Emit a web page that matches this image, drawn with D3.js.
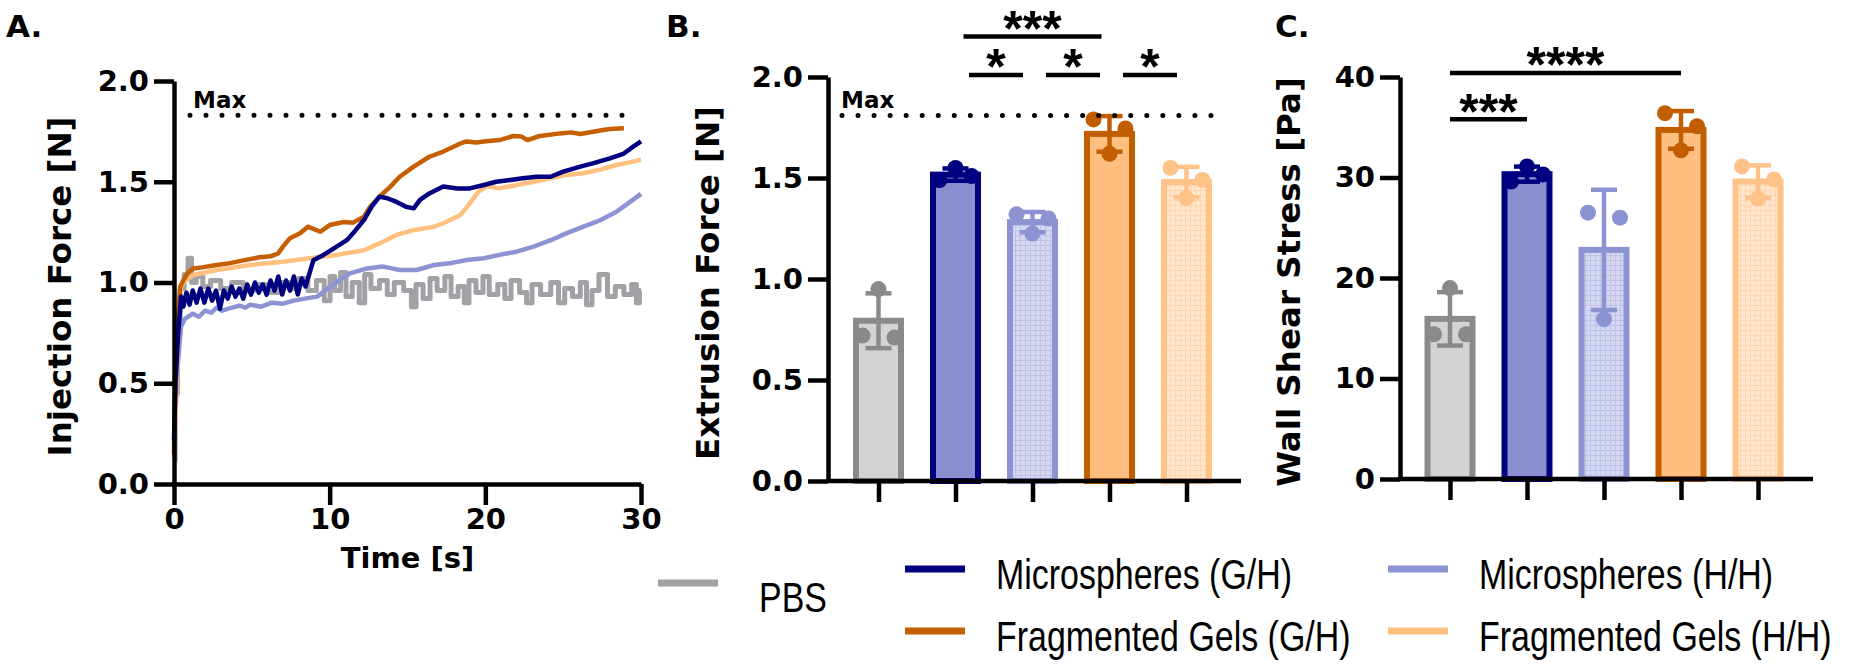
<!DOCTYPE html>
<html><head><meta charset="utf-8">
<script src="https://cdn.jsdelivr.net/npm/d3@7"></script>
<style>body{margin:0;background:#fff}svg{display:block}</style>
</head><body>
<svg id="c" width="1859" height="670"></svg>
<script>
// ---------------- DATA ----------------
const timeTicks = [0, 10, 20, 30];
const forceTicks = [0, 0.5, 1.0, 1.5, 2.0];
const stressTicks = [0, 10, 20, 30, 40];
const groups = ["PBS", "Microspheres (G/H)", "Microspheres (H/H)", "Fragmented Gels (G/H)", "Fragmented Gels (H/H)"];

const maxInjection = 1.83;
const maxExtrusion = 1.81;

// Injection force traces [time s, force N]
const tracePBS = [[0,0.12],[0.15,0.45],[0.3,0.75],[0.5,0.97],[0.8,1.04],[1.0,1.12],[1.25,1.0],[1.6,1.03],[2.1,0.98],[2.6,1.01],[3.4,0.97],[4.0,1.0],[4.9,0.96],[5.6,0.99],[6.3,0.95],[7.1,1.0],[7.7,0.97],[8.3,1.02],[8.9,0.96],[9.4,1.01],[9.9,0.91],[10.15,1.03],[10.5,0.96],[10.9,1.05],[11.2,0.93],[11.7,1.0],[12.1,0.9],[12.4,1.04],[12.9,0.97],[13.5,1.01],[13.9,0.94],[14.4,1.0],[15.1,0.96],[15.4,0.88],[15.7,0.99],[16.3,0.92],[16.6,1.02],[17.2,0.96],[17.6,1.03],[18.0,0.93],[18.5,0.98],[18.8,0.9],[19.1,1.01],[19.7,0.95],[20.0,1.03],[20.5,0.94],[21.1,0.99],[21.4,0.92],[21.9,1.01],[22.5,0.95],[22.8,0.9],[23.2,0.99],[23.9,0.94],[24.5,1.0],[24.9,0.9],[25.3,0.97],[25.9,0.93],[26.3,1.0],[26.7,0.89],[27.0,0.96],[27.6,1.04],[28.1,0.93],[28.6,0.98],[29.2,0.94],[29.6,0.99],[29.8,0.9],[30.0,0.96]];
const traceMSGH = [[0,0.22],[0.1,0.5],[0.25,0.72],[0.45,0.93],[0.6,0.88],[0.8,0.95],[1.0,0.89],[1.2,0.96],[1.45,0.9],[1.7,0.97],[1.95,0.9],[2.2,0.97],[2.45,0.91],[2.7,0.96],[2.95,0.87],[3.2,0.96],[3.45,0.92],[3.7,0.98],[3.95,0.93],[4.2,0.97],[4.45,0.92],[4.7,0.99],[4.95,0.94],[5.2,1.0],[5.45,0.95],[5.7,0.99],[5.95,0.94],[6.2,1.01],[6.45,0.96],[6.7,1.03],[6.95,0.94],[7.2,1.01],[7.45,0.96],[7.7,1.03],[7.95,0.94],[8.2,1.02],[8.45,0.98],[8.95,1.11],[9.6,1.137],[10.45,1.178],[11.1,1.21],[11.5,1.244],[12.2,1.31],[12.7,1.376],[13.2,1.426],[13.7,1.418],[14.3,1.40],[14.9,1.376],[15.4,1.368],[15.8,1.41],[16.4,1.442],[17.3,1.476],[18.2,1.467],[19.0,1.467],[19.9,1.484],[20.7,1.50],[21.6,1.509],[22.4,1.517],[23.3,1.525],[24.2,1.525],[25.0,1.55],[26.1,1.575],[26.9,1.591],[28.0,1.616],[28.9,1.64],[29.5,1.674],[30.0,1.70]];
const traceMSHH = [[0,0.2],[0.2,0.55],[0.45,0.78],[0.7,0.82],[1.2,0.845],[1.6,0.83],[2.0,0.86],[2.4,0.85],[2.74,0.875],[3.1,0.86],[3.5,0.87],[4.2,0.885],[4.6,0.875],[4.9,0.89],[5.6,0.88],[6.3,0.9],[7.0,0.895],[7.7,0.91],[8.4,0.92],[9.2,0.93],[9.7,0.96],[10.2,0.988],[10.8,1.02],[11.3,1.045],[12.4,1.07],[13.4,1.079],[14.0,1.07],[14.5,1.062],[15.6,1.062],[16.7,1.087],[17.7,1.095],[18.8,1.112],[19.9,1.12],[20.9,1.137],[22.0,1.153],[23.1,1.178],[24.2,1.21],[25.2,1.244],[26.3,1.277],[27.4,1.31],[28.4,1.35],[29.3,1.40],[30.0,1.44]];
const traceFGGH = [[0,0.15],[0.1,0.55],[0.25,0.82],[0.4,0.98],[0.6,1.01],[0.9,1.05],[1.24,1.07],[1.8,1.075],[2.74,1.087],[3.5,1.095],[4.45,1.11],[5.5,1.125],[6.2,1.13],[6.7,1.145],[7.0,1.178],[7.45,1.22],[8.1,1.244],[8.6,1.277],[9.0,1.265],[9.4,1.252],[10.0,1.285],[10.9,1.30],[11.5,1.297],[12.2,1.327],[12.6,1.376],[13.2,1.426],[13.9,1.476],[14.5,1.525],[15.4,1.575],[16.4,1.624],[17.3,1.65],[18.4,1.69],[18.8,1.70],[19.4,1.695],[19.9,1.70],[20.9,1.707],[21.8,1.727],[22.3,1.725],[22.7,1.707],[23.5,1.727],[24.8,1.74],[25.5,1.745],[26.1,1.737],[27.2,1.752],[28.0,1.762],[28.9,1.765]];
const traceFGHH = [[0,0.13],[0.15,0.45],[0.3,0.8],[0.45,0.98],[0.6,1.0],[1.24,1.037],[2.74,1.062],[4.9,1.087],[7.0,1.103],[8.7,1.12],[10.45,1.137],[12.2,1.16],[13.2,1.194],[14.3,1.236],[15.4,1.26],[16.7,1.277],[17.3,1.294],[18.4,1.335],[19.0,1.393],[19.55,1.45],[20.1,1.479],[20.9,1.467],[22.0,1.484],[23.1,1.50],[24.2,1.517],[25.2,1.534],[26.3,1.542],[27.4,1.56],[28.4,1.583],[29.5,1.60],[30.0,1.61]];

// Extrusion force replicates (N), per group
const extrusionForce = [[0.72,0.95,0.71],[1.49,1.55,1.51],[1.32,1.225,1.30],[1.79,1.62,1.745],[1.55,1.40,1.49]];
// Wall shear stress replicates (Pa), per group
const wallShearStress = [[14.4,19.0,14.4],[29.6,31.1,30.3],[26.5,15.9,26.0],[36.4,32.7,35.1],[31.1,27.9,29.8]];

// significance brackets: group indices, label, level (data units)
const sigB = [{a:1,b:3,label:"***",level:2.20,long:true},{a:1,b:2,label:"*",level:2.01},{a:2,b:3,label:"*",level:2.01},{a:3,b:4,label:"*",level:2.01}];
const sigC = [{a:0,b:3,label:"****",level:40.4,long:true},{a:0,b:1,label:"***",level:35.8}];

// ---------------- STYLE ----------------
const BOLD = "'DejaVu Sans', sans-serif";
const REG = "'Liberation Sans', Arial, sans-serif";
const lineColors = ["#a2a2a6","#000080","#8c93d2","#c55f00","#ffc080"];
const barStroke = ["#8a8a8a","#000080","#8c93d2","#c25e00","#ffc38a"];
const barFill = ["#d3d3d3","#8a8fcf","url(#patBlue)","#ffbf80","url(#patOrange)"];
const dotColor = ["#8a8a8a","#000080","#8c93d2","#c25e00","#ffc38a"];

const svg = d3.select("#c");
const defs = svg.append("defs");
function pattern(id, base, line){
  const p = defs.append("pattern").attr("id",id).attr("patternUnits","userSpaceOnUse").attr("width",5).attr("height",5);
  p.append("rect").attr("width",5).attr("height",5).attr("fill",base);
  p.append("rect").attr("width",5).attr("height",1).attr("fill",line);
  p.append("rect").attr("width",1).attr("height",5).attr("fill",line);
}
pattern("patBlue","#d6d8f1","#bfc3e8");
pattern("patOrange","#ffe6cc","#ffd6ae");

function styleAxis(g){
  g.selectAll("path,line").attr("stroke","#000").attr("stroke-width",4.5);
  g.selectAll("text").attr("font-family",BOLD).attr("font-weight","bold").attr("font-size",29).attr("fill","#000");
}
function panelLabel(t,x){
  svg.append("text").attr("x",x).attr("y",37).text(t).attr("font-family",BOLD).attr("font-weight","bold").attr("font-size",31);
}
function yTitle(t,x,y){
  svg.append("text").attr("transform",`translate(${x},${y}) rotate(-90)`).attr("text-anchor","middle").text(t)
    .attr("font-family",BOLD).attr("font-weight","bold").attr("font-size",32.5);
}
function dotted(x0,x1,y,step){
  const n = Math.round((x1-x0)/step);
  svg.append("line").attr("x1",x0).attr("x2",x1).attr("y1",y).attr("y2",y)
    .attr("stroke","#000").attr("stroke-width",5).attr("stroke-linecap","round")
    .attr("stroke-dasharray",`0 ${(x1-x0)/n}`);
}

// ---------------- PANEL A ----------------
panelLabel("A.",6);
const xA = d3.scaleLinear().domain([0,30]).range([174,641]);
const yA = d3.scaleLinear().domain([0,2]).range([484,81]);
const line = d3.line().x(d=>xA(d[0])).y(d=>yA(d[1]));
const stepLine = d3.line().x(d=>xA(d[0])).y(d=>yA(d[1])).curve(d3.curveStep);
[tracePBS,traceMSHH,traceFGHH,traceFGGH,traceMSGH].forEach((tr,i)=>{
  const ci = [0,2,4,3,1][i];
  svg.append("path").attr("d",(ci===0?stepLine:line)(tr)).attr("fill","none").attr("stroke",lineColors[ci])
    .attr("stroke-width",ci===0?5:4.5).attr("stroke-linejoin","round");
});
const ayA = svg.append("g").attr("transform",`translate(${xA(0)},0)`)
  .call(d3.axisLeft(yA).tickValues(forceTicks).tickFormat(d3.format(".1f")).tickSize(20).tickSizeOuter(0).tickPadding(5));
styleAxis(ayA);
const axA = svg.append("g").attr("transform",`translate(0,${yA(0)})`)
  .call(d3.axisBottom(xA).tickValues(timeTicks).tickFormat(d3.format("d")).tickSize(21).tickSizeOuter(0).tickPadding(3));
styleAxis(axA);
dotted(xA(0)+16, xA(30)-3, yA(maxInjection), 15.8);
svg.append("text").attr("x",xA(0)+19).attr("y",yA(maxInjection)-7.5).text("Max")
  .attr("font-family",BOLD).attr("font-weight","bold").attr("font-size",23);
yTitle("Injection Force [N]",71,yA(1)+4);
svg.append("text").attr("x",(xA(0)+xA(30))/2).attr("y",568).attr("text-anchor","middle").text("Time [s]")
  .attr("font-family",BOLD).attr("font-weight","bold").attr("font-size",29);

// ---------------- BAR PANEL helper ----------------
function barPanel(opts){
  const {xs, ys, axisX, axisEnd, data, ticks, fmt} = opts;
  data.forEach((vals,i)=>{
    const m = d3.mean(vals), sd = d3.deviation(vals);
    const cx = xs(groups[i]);
    svg.append("rect").attr("x",cx-22.5).attr("width",45).attr("y",ys(m)).attr("height",ys(0)-ys(m))
      .attr("fill",barFill[i]).attr("stroke",barStroke[i]).attr("stroke-width",6);
    const g = svg.append("g").attr("stroke",barStroke[i]).attr("stroke-width",4.5);
    g.append("line").attr("x1",cx).attr("x2",cx).attr("y1",ys(m-sd)).attr("y2",ys(m+sd));
    g.append("line").attr("x1",cx-13).attr("x2",cx+13).attr("y1",ys(m+sd)).attr("y2",ys(m+sd));
    g.append("line").attr("x1",cx-13).attr("x2",cx+13).attr("y1",ys(m-sd)).attr("y2",ys(m-sd));
    vals.forEach((v,j)=>{
      svg.append("circle").attr("cx",cx+[-16,0,16][j]).attr("cy",ys(v)).attr("r",8).attr("fill",dotColor[i]);
    });
  });
  const ay = svg.append("g").attr("transform",`translate(${axisX},0)`)
    .call(d3.axisLeft(ys).tickValues(ticks).tickFormat(fmt).tickSize(20).tickSizeOuter(0).tickPadding(5));
  styleAxis(ay);
  const ax = svg.append("g").attr("transform",`translate(0,${ys(0)})`)
    .call(d3.axisBottom(xs).tickFormat(()=>"").tickSize(21).tickSizeOuter(0));
  ax.select(".domain").remove();
  styleAxis(ax);
  svg.append("line").attr("x1",axisX-2).attr("x2",axisEnd).attr("y1",ys(0)).attr("y2",ys(0))
    .attr("stroke","#000").attr("stroke-width",4.5);
}
function sig(list, xs, ys, insetLong, halfShort){
  list.forEach(s=>{
    let x1, x2;
    if (s.long){ x1 = xs(groups[s.a])+insetLong; x2 = xs(groups[s.b])-insetLong; }
    else if (halfShort){ const mid=(xs(groups[s.a])+xs(groups[s.b]))/2+2; x1=mid-halfShort; x2=mid+halfShort; }
    else { x1 = xs(groups[s.a]); x2 = xs(groups[s.b]); }
    const y = ys(s.level);
    svg.append("line").attr("x1",x1).attr("x2",x2).attr("y1",y).attr("y2",y).attr("stroke","#000").attr("stroke-width",4.5);
    svg.append("text").attr("x",(x1+x2)/2).attr("y",y+9.5).attr("text-anchor","middle").text(s.label)
      .attr("font-family",REG).attr("font-weight","bold").attr("font-size",50);
  });
}

// ---------------- PANEL B ----------------
panelLabel("B.",666);
const xB = d3.scalePoint().domain(groups).range([840,1225]).padding(0.5);
const yB = d3.scaleLinear().domain([0,2]).range([481,77]);
barPanel({xs:xB, ys:yB, axisX:828, axisEnd:1241, data:extrusionForce, ticks:forceTicks, fmt:d3.format(".1f")});
dotted(842, 1227, yB(maxExtrusion), 16);
svg.append("text").attr("x",841).attr("y",yB(maxExtrusion)-7.5).text("Max")
  .attr("font-family",BOLD).attr("font-weight","bold").attr("font-size",23);
sig(sigB, xB, yB, 8, 27);
yTitle("Extrusion Force [N]",719,yB(1)+4);

// ---------------- PANEL C ----------------
panelLabel("C.",1275);
const xC = d3.scalePoint().domain(groups).range([1411.5,1796.5]).padding(0.5);
const yC = d3.scaleLinear().domain([0,40]).range([479,77]);
barPanel({xs:xC, ys:yC, axisX:1400, axisEnd:1813, data:wallShearStress, ticks:stressTicks, fmt:d3.format("d")});
sig(sigC, xC, yC, 0, 0);
yTitle("Wall Shear Stress [Pa]",1300,yC(20)+4);

// ---------------- LEGEND ----------------
// [marker x, marker y, text baseline y]
const legendPos = [[658,583,612],[905,569,589],[1388,569,589],[905,631,651],[1388,631,651]];
groups.forEach((g,i)=>{
  const [x,y,ty] = legendPos[i];
  svg.append("line").attr("x1",x).attr("x2",x+60).attr("y1",y).attr("y2",y).attr("stroke",lineColors[i]).attr("stroke-width",7);
  svg.append("text").attr("transform",`translate(${x+(i===0?101:91)},${ty}) scale(0.97,1.2)`).text(g)
    .attr("font-family",REG).attr("font-size",35).attr("fill","#000");
});
</script>
</body></html>
